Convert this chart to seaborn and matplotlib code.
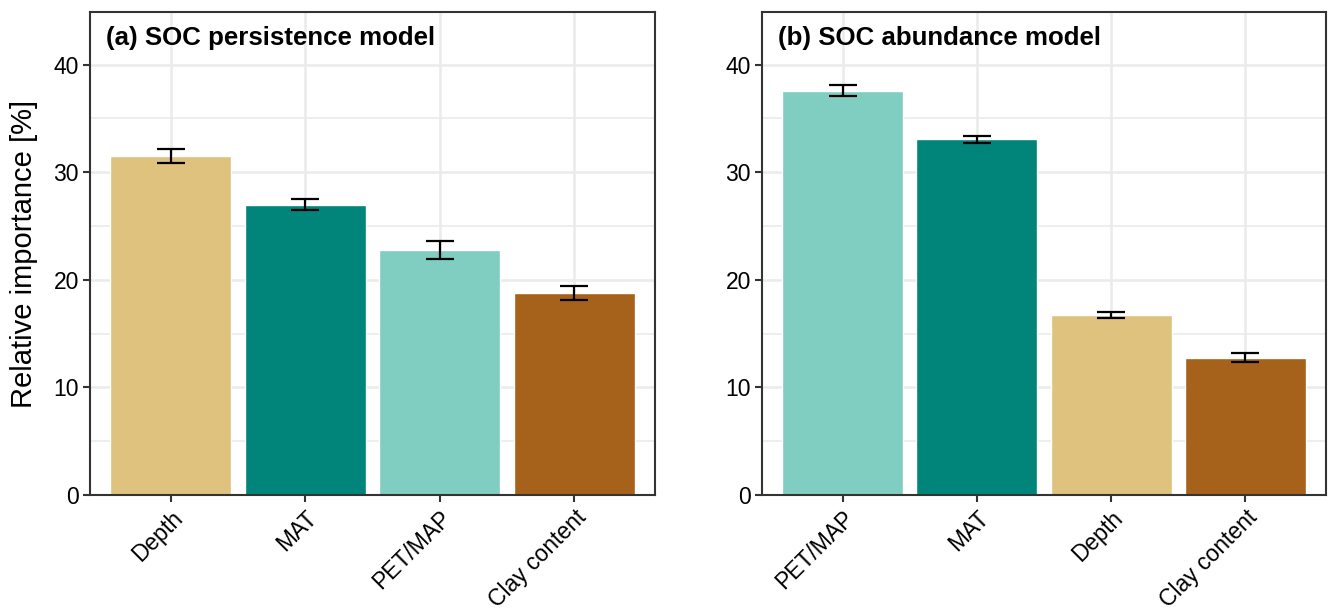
import matplotlib
matplotlib.use("Agg")
import matplotlib.pyplot as plt
import seaborn as sns
import pandas as pd
import numpy as np

# Data
cats_a = ["Depth", "MAT", "PET/MAP", "Clay content"]
vals_a = [31.5, 27.0, 22.8, 18.8]
errs_a = [0.65, 0.5, 0.85, 0.65]

cats_b = ["PET/MAP", "MAT", "Depth", "Clay content"]
vals_b = [37.6, 33.05, 16.75, 12.75]
errs_b = [0.55, 0.35, 0.25, 0.42]

titles = ["(a) SOC persistence model", "(b) SOC abundance model"]
colors = {"Depth": "#DFC27D", "MAT": "#01857A", "PET/MAP": "#80CDC1", "Clay content": "#A6611A"}

sns.set_theme(style="white")
plt.rcParams['font.family'] = ['Liberation Sans', 'DejaVu Sans']

fig = plt.figure(figsize=(13.28, 6.12), dpi=100)
W, H = 1328, 612
ax1 = fig.add_axes([90 / W, 1 - 495 / H, (655 - 90) / W, (495 - 12) / H])
ax2 = fig.add_axes([762 / W, 1 - 495 / H, (1326 - 762) / W, (495 - 12) / H])

for ax, cats, vals, errs, title in [(ax1, cats_a, vals_a, errs_a, titles[0]),
                                    (ax2, cats_b, vals_b, errs_b, titles[1])]:
    df = pd.DataFrame({"var": cats, "imp": vals})
    ax.set_axisbelow(True)
    for y in [5, 15, 25, 35]:
        ax.axhline(y, color="#EBEBEB", lw=1.2, zorder=0)
    for y in [0, 10, 20, 30, 40]:
        ax.axhline(y, color="#EBEBEB", lw=1.8, zorder=0)
    for x in range(len(cats)):
        ax.axvline(x, color="#EBEBEB", lw=1.8, zorder=0)
    sns.barplot(data=df, x="var", y="imp", hue="var", order=cats, palette=colors,
                width=0.9, errorbar=None, legend=False, ax=ax, saturation=1, zorder=2)
    ax.errorbar(np.arange(len(cats)), vals, yerr=errs, fmt="none", ecolor="black",
                elinewidth=1.6, capsize=10, capthick=1.6, zorder=3)
    ax.set_xlim(-0.6, len(cats) - 0.4)
    ax.set_ylim(0, 44.9)
    ax.set_yticks([0, 10, 20, 30, 40])
    ax.set_xlabel("")
    ax.set_ylabel("")
    ax.tick_params(axis="both", which="major", length=5, width=1.5, color="#333333",
                   labelsize=16.5, labelcolor="black", left=True, bottom=True, pad=3)
    ax.set_xticks(range(len(cats)))
    ax.set_xticklabels(cats, rotation=45, ha="right", rotation_mode="anchor", fontsize=16.5)
    for s in ax.spines.values():
        s.set_color("#333333")
        s.set_linewidth(1.5)
        s.set_visible(True)
    ax.text(0.028, 0.972, title, transform=ax.transAxes, fontsize=18.6, fontweight="bold",
            va="top", ha="left", color="black")

ax1.set_ylabel("Relative importance [%]", fontsize=21, labelpad=11, color="black")

fig.savefig("out.png", dpi=100)
